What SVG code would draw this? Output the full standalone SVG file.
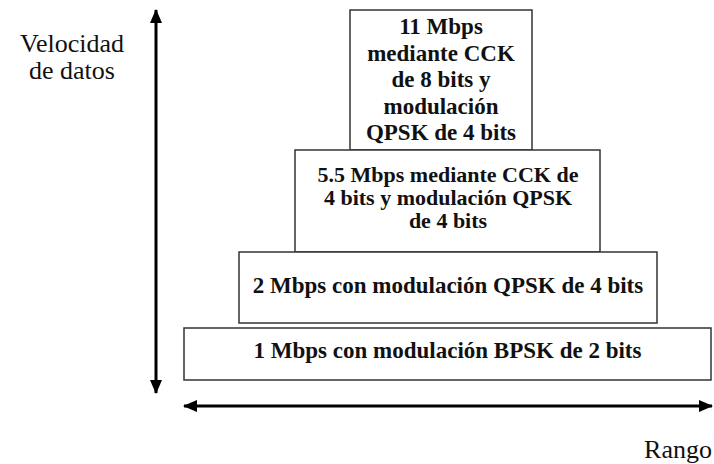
<svg xmlns="http://www.w3.org/2000/svg" width="714" height="464" viewBox="0 0 714 464">
  <style>
    .box { fill: #ffffff; stroke: #333333; stroke-width: 1.5; }
    text { font-family: "Liberation Serif", "Times New Roman", Times, "DejaVu Serif", serif; fill: #111111; }
    .lbl { font-size: 23px; font-weight: bold; text-anchor: middle; }
    .lbl2 { font-size: 22px; font-weight: bold; text-anchor: middle; }
    .axis-lbl { font-size: 26px; }
    .axis { stroke: #000000; stroke-width: 3; fill: none; }
  </style>
  <defs>
    <marker id="head" markerUnits="userSpaceOnUse" markerWidth="14" markerHeight="12" viewBox="0 0 14 12" refX="13" refY="6" orient="auto-start-reverse">
      <path d="M0,0 L14,6 L0,12 z" fill="#000000"/>
    </marker>
  </defs>
  <rect width="714" height="464" fill="#ffffff"/>

  <!-- axes -->
  <g id="connectors">
    <line class="axis" x1="156" y1="393" x2="156" y2="10" marker-start="url(#head)" marker-end="url(#head)"/>
    <line class="axis" x1="184" y1="406" x2="712" y2="406" marker-start="url(#head)" marker-end="url(#head)"/>
  </g>

  <g id="label-velocidad">
    <text class="axis-lbl" x="72" y="52" text-anchor="middle">Velocidad</text>
    <text class="axis-lbl" x="72" y="79" text-anchor="middle">de datos</text>
  </g>
  <g id="label-rango">
    <text class="axis-lbl" x="712" y="458" text-anchor="end">Rango</text>
  </g>

  <!-- rate tiers, stacked as a pyramid -->
  <g id="tier-11">
    <rect class="box" x="350" y="10" width="182" height="140"/>
    <text class="lbl" x="441" y="34">11 Mbps</text>
    <text class="lbl" x="441" y="61">mediante CCK</text>
    <text class="lbl" x="441" y="87">de 8 bits y</text>
    <text class="lbl" x="441" y="114">modulación</text>
    <text class="lbl" x="441" y="140">QPSK de 4 bits</text>
  </g>
  <g id="tier-5-5">
    <rect class="box" x="295" y="150" width="305" height="102"/>
    <text class="lbl2" x="448" y="182">5.5 Mbps mediante CCK de</text>
    <text class="lbl2" x="448" y="205">4 bits y modulación QPSK</text>
    <text class="lbl2" x="448" y="228">de 4 bits</text>
  </g>
  <g id="tier-2">
    <rect class="box" x="239" y="252" width="418" height="71"/>
    <text class="lbl" x="448" y="293">2 Mbps con modulación QPSK de 4 bits</text>
  </g>
  <g id="tier-1">
    <rect class="box" x="184" y="328" width="527" height="52"/>
    <text class="lbl" x="447.5" y="358">1 Mbps con modulación BPSK de 2 bits</text>
  </g>
</svg>
